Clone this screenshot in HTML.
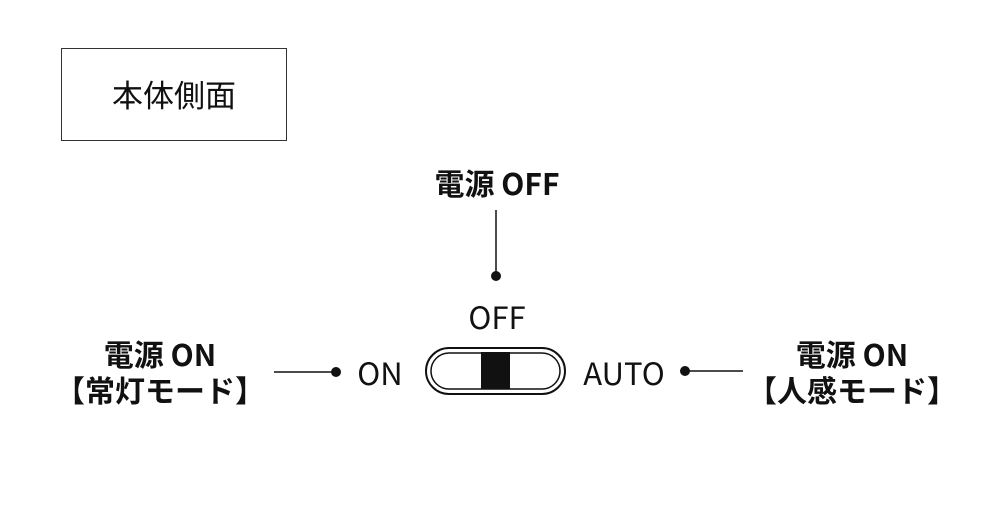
<!DOCTYPE html>
<html><head><meta charset="utf-8"><style>
body{margin:0;background:#fff;width:1000px;height:515px;position:relative;overflow:hidden;font-family:"Liberation Sans","Noto Sans CJK JP",sans-serif;color:#111}
.t{position:absolute;white-space:nowrap;line-height:1}
.b{font-family:"Noto Sans CJK JP","Liberation Sans",sans-serif;font-weight:700;font-size:30px}
.n{font-family:"Noto Sans CJK JP","Liberation Sans",sans-serif;font-size:31px}
</style></head><body>
<div style="position:absolute;left:61px;top:48px;width:224px;height:91px;border:1px solid #333"></div>
<div class="t n" style="left:61px;width:226px;text-align:center;top:78px;">本体側面</div>
<div class="t b" style="left:397px;width:200px;text-align:center;top:167px;">電源 OFF</div>
<div class="t n" style="left:447px;width:100px;text-align:center;top:300px;">OFF</div>
<div class="t n" style="left:340px;width:80px;text-align:center;top:356px;">ON</div>
<div class="t n" style="left:564px;width:120px;text-align:center;top:356px;">AUTO</div>
<div class="t b" style="left:60px;width:200px;text-align:center;top:338px;">電源 ON</div>
<div class="t b" style="left:40px;width:240px;text-align:center;top:374px;">【常灯モード】</div>
<div class="t b" style="left:752px;width:200px;text-align:center;top:338px;">電源 ON</div>
<div class="t b" style="left:732px;width:240px;text-align:center;top:374px;">【人感モード】</div>
<svg width="1000" height="515" style="position:absolute;left:0;top:0">
<g stroke="#111" fill="none">
<line x1="496" y1="210" x2="496" y2="276" stroke-width="1.5"/>
<line x1="274" y1="372" x2="336" y2="372" stroke-width="1.5"/>
<line x1="685" y1="371" x2="743" y2="371" stroke-width="1.5"/>
<rect x="426" y="348" width="139" height="46" rx="23" stroke-width="2"/>
<rect x="431" y="353" width="129" height="36" rx="18" stroke-width="1.5"/>
</g>
<g fill="#111">
<circle cx="496" cy="276" r="5"/>
<circle cx="336" cy="372" r="5"/>
<circle cx="685" cy="371" r="5"/>
<rect x="481" y="352" width="29" height="37"/>
</g>
</svg>
</body></html>
